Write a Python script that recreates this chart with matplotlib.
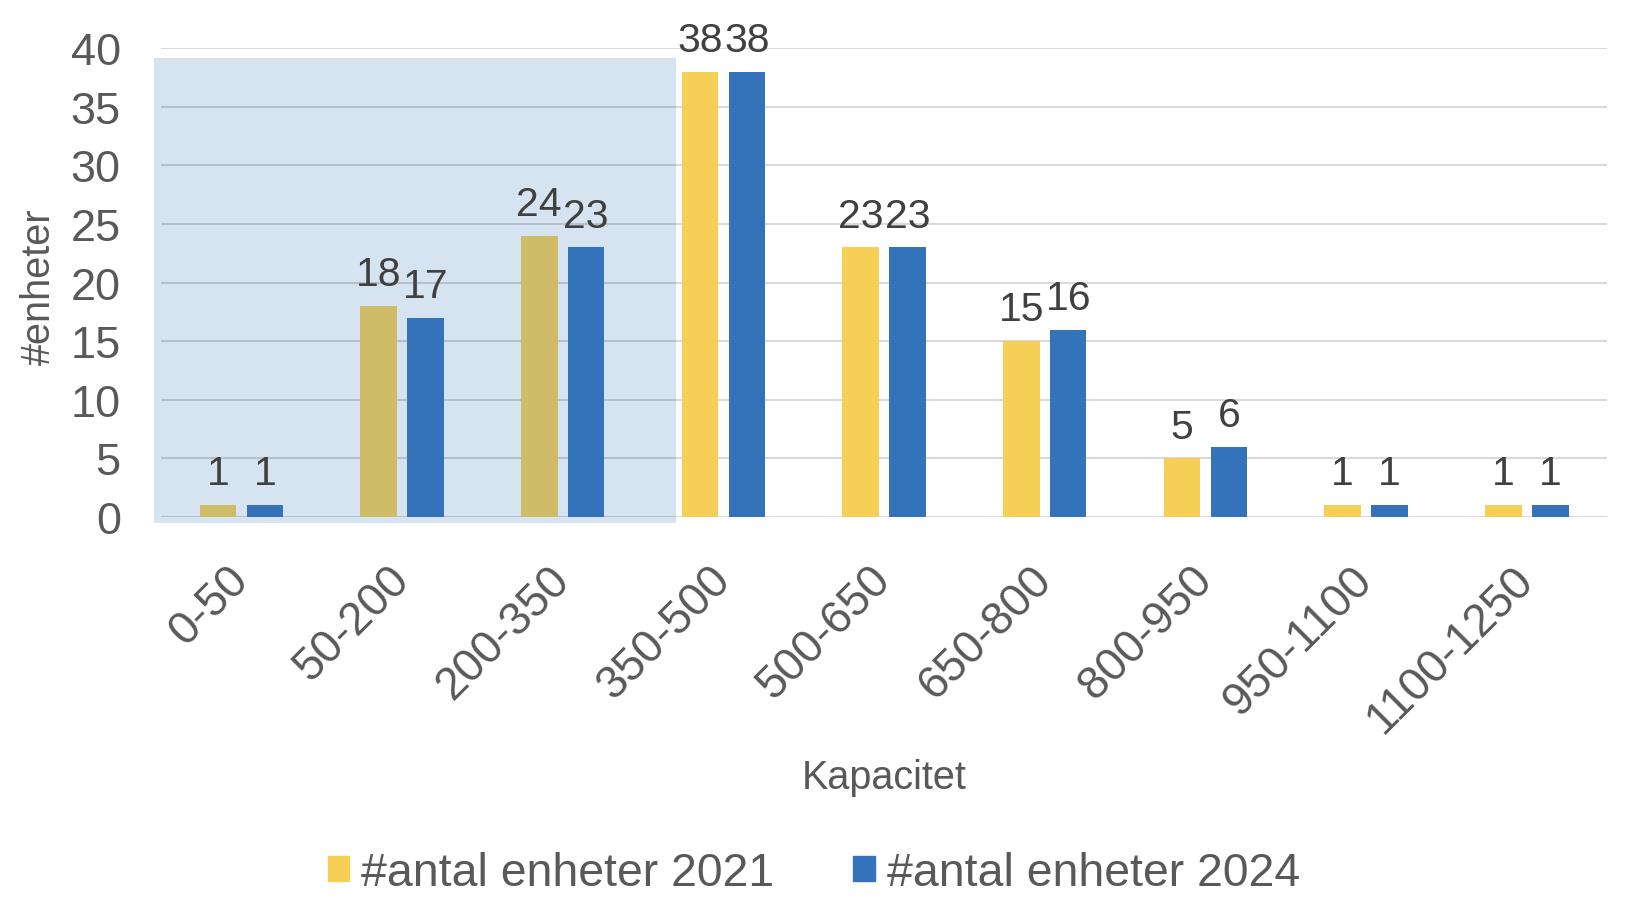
import matplotlib
matplotlib.use("Agg")
import matplotlib.pyplot as plt
import numpy as np
from matplotlib.patches import Rectangle

categories = ["0-50", "50-200", "200-350", "350-500", "500-650", "650-800",
              "800-950", "950-1100", "1100-1250"]
units_2021 = [1, 18, 24, 38, 23, 15, 5, 1, 1]
units_2024 = [1, 17, 23, 38, 23, 16, 6, 1, 1]
series_names = ["#antal enheter 2021", "#antal enheter 2024"]
highlight_count = 3  # first three categories highlighted

plt.rcParams['font.family'] = ['Liberation Sans', 'DejaVu Sans']

YEL = "#F6CF57"
YEL_HL = "#CFBC69"
BLUE = "#3473BA"
HL_BG = "#D6E3F0"
TICK_C = "#595959"
LAB_C = "#404040"

fig = plt.figure(figsize=(16.3, 9.12), dpi=100)
ax = fig.add_axes([0.0988, 0.432, 0.8872, 0.514])

x = np.arange(len(categories))
w = 0.227
off = 0.146

yel_colors = [YEL_HL if i < highlight_count else YEL for i in range(len(categories))]
b1 = ax.bar(x - off, units_2021, w, color=yel_colors, zorder=3, label=series_names[0])
b2 = ax.bar(x + off, units_2024, w, color=BLUE, zorder=3, label=series_names[1])

# highlight region
ax.add_patch(Rectangle((-0.544, -0.51), 2.705 + 0.544, 39.15 + 0.51,
                       facecolor=HL_BG, edgecolor='none', zorder=0, clip_on=False))

for bars, vals in ((b1, units_2021), (b2, units_2024)):
    for r, v in zip(bars, vals):
        ax.annotate(str(v), (r.get_x() + r.get_width() / 2, v),
                    xytext=(0, 15), textcoords='offset points',
                    ha='center', va='baseline', fontsize=29.5, color=LAB_C, zorder=5)

ax.set_xlim(-0.5, len(categories) - 0.5)
ax.set_ylim(0, 40)
ax.set_yticks(np.arange(0, 41, 5))
ax.yaxis.grid(True, color='black', alpha=0.15, linewidth=1.5, zorder=1)
ax.set_axisbelow(True)
for s in ax.spines.values():
    s.set_visible(False)

ax.tick_params(axis='y', length=0, pad=29, labelsize=32.5, labelcolor=TICK_C)
ax.tick_params(axis='x', length=0, pad=40, labelsize=33, labelcolor=TICK_C)
ax.set_xticks(x)
ax.set_xticklabels(categories, rotation=45, ha='right', va='center',
                   rotation_mode='anchor')

ax.set_ylabel("#enheter", fontsize=28.5, color=TICK_C)
ax.yaxis.label.set_va('center')
ax.yaxis.set_label_coords(-0.0847, 0.493)
ax.set_xlabel("Kapacitet", fontsize=28.5, color=TICK_C)
ax.xaxis.set_label_coords(0.5, (518 - 778) / 469)
ax.xaxis.label.set_va('center')

leg_handles = [Rectangle((0, 0), 1, 1, color=YEL), Rectangle((0, 0), 1, 1, color=BLUE)]
fig.legend(leg_handles, series_names, loc='center', bbox_to_anchor=(0.4994, 0.0417),
           ncol=2, frameon=False, fontsize=33.4, labelcolor=TICK_C,
           handlelength=0.46, handleheight=0.46, handletextpad=0.26,
           columnspacing=1.7, borderaxespad=0)

fig.savefig("out.png", dpi=100)
